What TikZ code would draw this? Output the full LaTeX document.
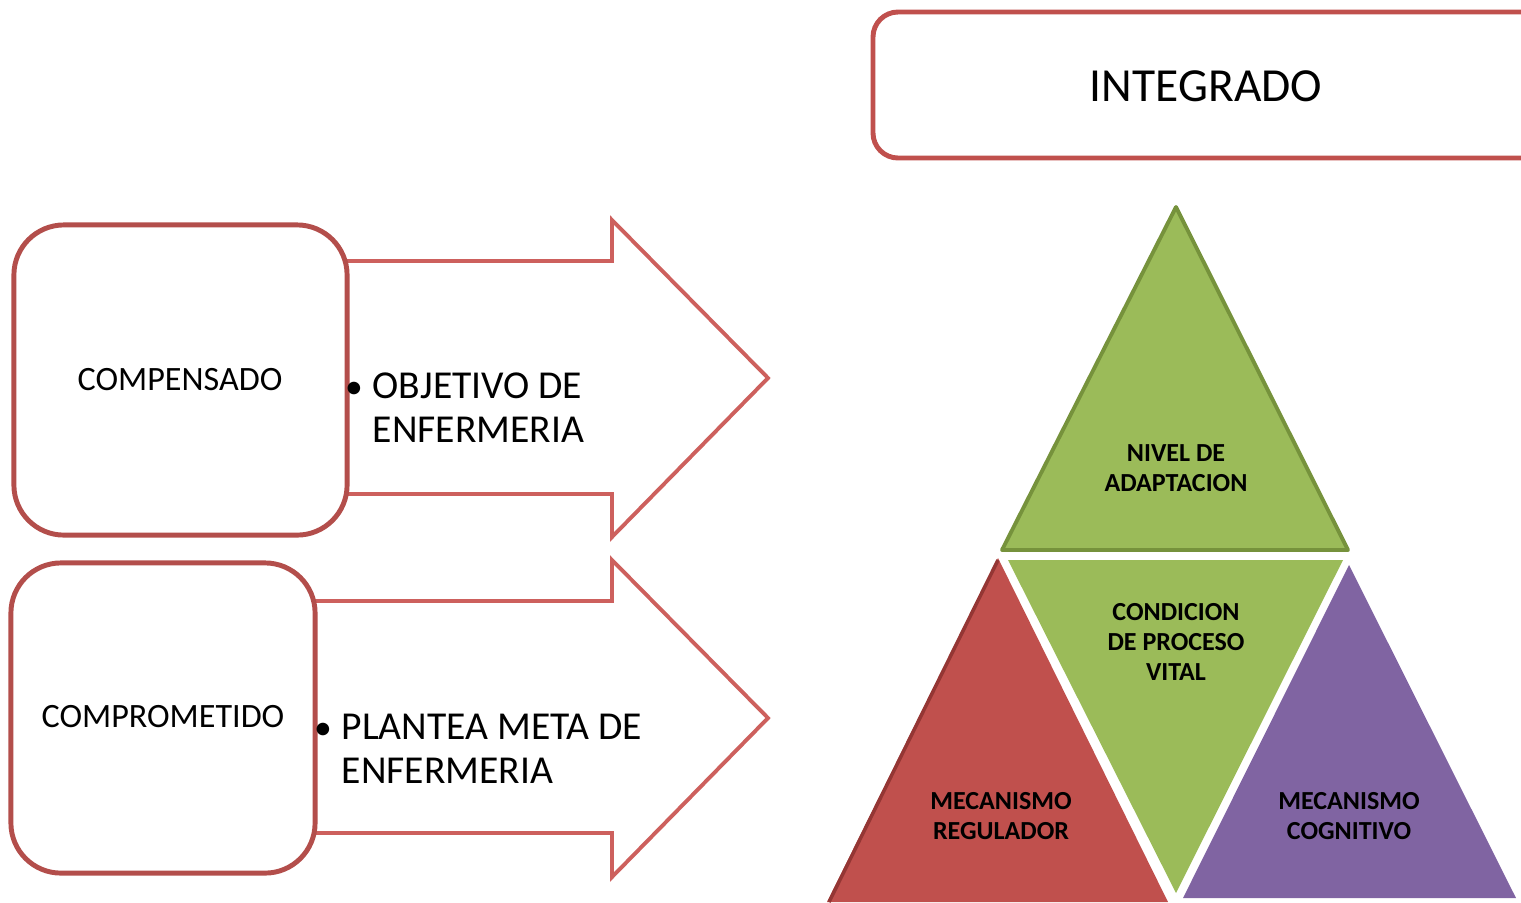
\documentclass[tikz,border=0pt]{standalone}
\usepackage{fontspec}
\setmainfont{Carlito}
\definecolor{boxred}{HTML}{B34E4B}
\definecolor{topred}{HTML}{C0504D}
\definecolor{arrred}{HTML}{CD605D}
\definecolor{grfill}{HTML}{9BBB59}
\definecolor{grline}{HTML}{76923C}
\definecolor{rdfill}{HTML}{C0504D}
\definecolor{rdline}{HTML}{943634}
\definecolor{pufill}{HTML}{8064A2}
\begin{document}
\begin{tikzpicture}[x=0.01cm,y=-0.01cm,
  statebox/.style={draw=boxred, line width=1.4pt, fill=white, rounded corners=0.5cm, inner sep=0pt},
  arrowbody/.style={draw=arrred, line width=1.1pt, fill=white, line join=miter},
  boxtext/.style={font=\fontsize{9.7}{11}\selectfont, inner sep=0pt},
  arrtext/.style={font=\fontsize{11.25}{12.5}\selectfont, align=left, anchor=west, inner sep=0pt},
  trilab/.style={font=\bfseries\fontsize{7.4}{8.5}\selectfont, align=center, inner sep=0pt}]
\useasboundingbox (0,0) rectangle (1521,902);

% top box
\draw[draw=topred, line width=1.4pt, fill=white, rounded corners=0.25cm] (873,12) rectangle (1560,158);
\node[font=\fontsize{13.5}{15}\selectfont, inner sep=0pt] (integ) at (1206,86) {INTEGRADO};

% arrows
\draw[arrowbody] (330,261) -- (612,261) -- (612,220) -- (768,378) -- (612,537) -- (612,494) -- (330,494) -- cycle;
\draw[arrowbody] (300,601) -- (612,601) -- (612,560) -- (768,718) -- (612,877) -- (612,833) -- (300,833) -- cycle;

% state boxes
\node[statebox, minimum width=3.33cm, minimum height=3.10cm] (compbox) at (180.5,380) {};
\node[boxtext] (comp) at (180,380) {COMPENSADO};
\node[statebox, minimum width=3.04cm, minimum height=3.10cm] (compbox2) at (163,718) {};
\node[boxtext] (compr) at (163,717) {COMPROMETIDO};

% arrow texts
\node[arrtext] (obj) at (372,408) {\llap{\scalebox{0.9}{•}\hspace{2.8pt}}OBJETIVO DE\\ENFERMERIA};
\node[arrtext] (meta) at (341,749) {\llap{\scalebox{0.9}{•}\hspace{2.8pt}}PLANTEA META DE\\ENFERMERIA};

% triangles
\draw[fill=grfill, draw=grline, line width=1.1pt, line join=round] (1176,207) -- (1348,550) -- (1002,550) -- cycle;
\fill[grfill] (1008,560) -- (1343,560) -- (1176,893) -- cycle;
\fill[rdfill] (998,558) -- (1168,902) -- (827,902) -- cycle;
\draw[rdline, line width=1pt] (998,560) -- (829,902);
\fill[pufill] (1349,565) -- (1516,898) -- (1183,898) -- cycle;

\node[trilab] (nivel) at (1176,468) {NIVEL DE\\ADAPTACION};
\node[trilab] (cond) at (1176,642) {CONDICION\\DE PROCESO\\VITAL};
\node[trilab] (reg) at (1001,816) {MECANISMO\\REGULADOR};
\node[trilab] (cog) at (1349,816) {MECANISMO\\COGNITIVO};
\end{tikzpicture}
\end{document}
